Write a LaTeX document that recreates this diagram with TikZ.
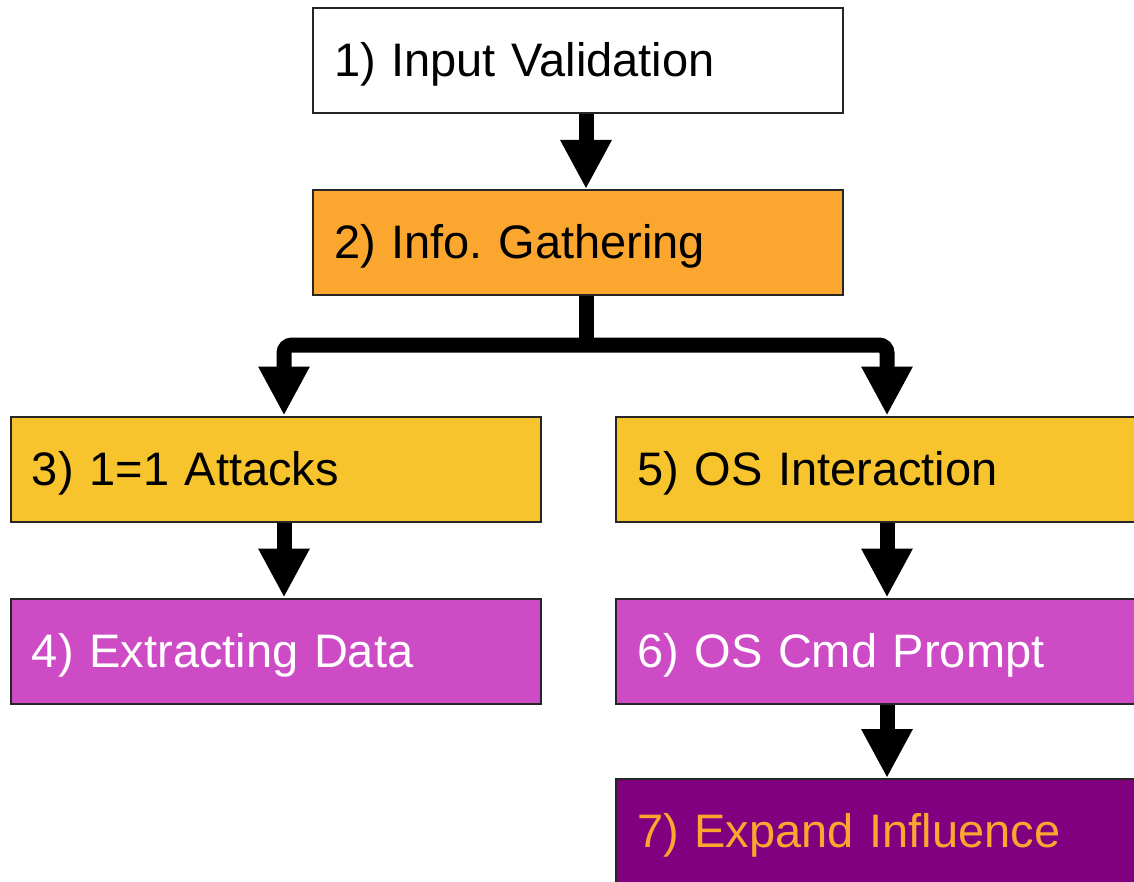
\documentclass[tikz,border=0pt]{standalone}
\usepackage{fontspec}
\setmainfont{Liberation Sans}
\usetikzlibrary{arrows.meta,calc}
\definecolor{boxorange}{HTML}{FBA72F}
\definecolor{boxyellow}{HTML}{F7C42D}
\definecolor{boxmagenta}{HTML}{CE4BC6}
\definecolor{boxpurple}{HTML}{800080}
\begin{document}
\frenchspacing
\begin{tikzpicture}[x=0.5pt,y=-0.5pt,
  box/.style={draw=black!85,line width=1pt,rectangle,minimum width=265pt,minimum height=52.5pt,
    text width=244pt,inner xsep=10.5pt,inner ysep=0pt,align=left,
    text height=16pt,text depth=0pt,
    font=\fontsize{23.5}{28}\selectfont},
  flow/.style={line width=7.5pt,-{Triangle[width=24pt,length=24.5pt]}},
  bar/.style={line width=7.5pt}]
\useasboundingbox (0,0) rectangle (1134,882);
\clip (0,0) rectangle (1134,882);

\node[box,fill=white] (n1) at (578,60.5) {1) Input Validation};
\node[box,fill=boxorange] (n2) at (578,242.5) {2) Info. Gathering};
\node[box,fill=boxyellow] (n3) at (276,469) {3) 1=1 Attacks};
\node[box,fill=boxmagenta,text=white] (n4) at (276,651) {4) Extracting Data};
\node[box,fill=boxyellow] (n5) at (881,469) {5) OS Interaction};
\node[box,fill=boxmagenta,text=white] (n6) at (881,651) {6) OS Cmd Prompt};
\node[box,fill=boxpurple,text=boxorange] (n7) at (881,831.5) {7) Expand Influence};

\coordinate (ax) at (586,0);
\coordinate (lx) at (284,0);
\coordinate (rx) at (887,0);
\coordinate (by) at (0,345);

\draw[flow] (n1.south -| ax) -- (n2.north -| ax);
\draw[bar] (n2.south -| ax) -- (ax |- by);
\draw[flow,rounded corners=4pt] (ax |- by) -| (n3.north -| lx);
\draw[flow,rounded corners=4pt] (ax |- by) -| (n5.north -| rx);
\draw[flow] (n3.south -| lx) -- (n4.north -| lx);
\draw[flow] (n5.south -| rx) -- (n6.north -| rx);
\draw[flow] (n6.south -| rx) -- (n7.north -| rx);
\end{tikzpicture}
\end{document}
